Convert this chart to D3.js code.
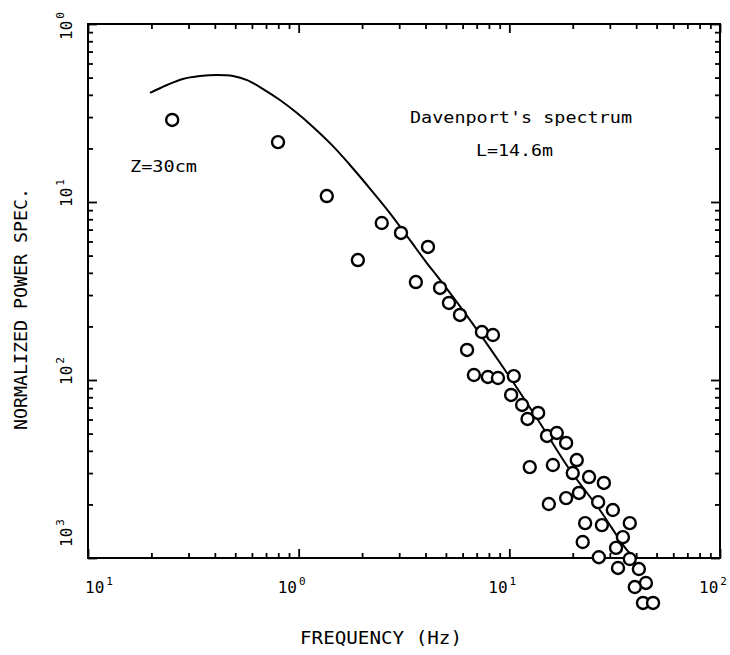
<!DOCTYPE html>
<html><head><meta charset="utf-8">
<script src="https://cdn.jsdelivr.net/npm/d3@7/dist/d3.min.js"></script>
<style>body{margin:0;background:#fff}</style>
</head><body>
<svg id="c" width="730" height="655"></svg>
<script>
// Observed normalized power spectrum (circles)
const obsFreq  = [0.251,0.798,1.36,1.91,2.48,3.06,3.60,4.11,4.69,5.17,5.83,6.30,7.41,8.36,6.79,7.91,8.83,10.5,10.2,11.5,13.7,12.2,15.1,16.8,18.6,12.5,16.1,20.9,20.0,23.9,28.1,15.4,18.6,21.4,26.4,31.0,22.9,27.5,37.3,34.6,22.3,32.1,26.6,37.3,32.8,41.2,44.5,39.4,43.1,48.1];
const obsPower = [0.289,0.217,0.108,0.0472,0.0762,0.0670,0.0355,0.0559,0.0329,0.0271,0.0232,0.01475,0.0186,0.0179,0.01067,0.0104,0.01026,0.01052,0.00824,0.00724,0.00653,0.00604,0.00485,0.00504,0.00443,0.00324,0.00333,0.00355,0.00300,0.00285,0.00264,0.00201,0.00217,0.00232,0.00206,0.00186,0.00157,0.00153,0.00157,0.00131,0.00123,0.00114,0.00101,0.000987,0.000879,0.000867,0.000724,0.000687,0.000559,0.000559];
// Davenport's spectrum (solid line)
const curveFreq  = [0.197,0.237,0.282,0.340,0.410,0.488,0.569,0.678,0.815,0.982,1.17,1.455,1.752,2.11,2.71,3.37,4.06,4.69,6.51,9.53,13.97,19.4,26.9,36.1,39.4];
const curvePower = [0.410,0.454,0.491,0.510,0.517,0.510,0.484,0.431,0.374,0.316,0.264,0.206,0.1614,0.1246,0.0867,0.0612,0.0454,0.0365,0.0217,0.01138,0.00573,0.00312,0.00186,0.00111,0.00100];
// Tick labels
const xTickValues = [0.1,1,10,100];
const xTickBase = ["10","10","10","10"];
const xTickExp  = ["1","0","1","2"];
const yTickValues = [1,0.1,0.01,0.001];
const yTickBase = ["10","10","10","10"];
const yTickExp  = ["0","1","2","3"];
const xTitle = "FREQUENCY (Hz)";
const yTitle = "NORMALIZED POWER SPEC.";
const noteSpectrum = "Davenport's spectrum";
const noteScale = "L=14.6m";
const noteHeight = "Z=30cm";

const svg = d3.select("#c");
const FONT = "'DejaVu Sans Mono', monospace";
const L = 88, R = 720, T = 24, B = 558;
const x = d3.scaleLog().domain([0.1,100]).range([L,R]);
const y = d3.scaleLog().domain([0.001,1]).range([B,T]);

const minorX = [], minorY = [];
[0.1,1,10].forEach(d => { for (let k=2;k<=9;k++) minorX.push(d*k); });
[0.001,0.01,0.1].forEach(d => { for (let k=2;k<=9;k++) minorY.push(d*k); });

function styleAxis(g){
  g.select(".domain").remove();
  g.selectAll("line").attr("stroke","#000").attr("stroke-width",1.8);
}
const major = 9, minor = 5;
svg.append("g").attr("transform",`translate(0,${B})`).call(d3.axisBottom(x).tickValues(xTickValues).tickSize(-major).tickFormat("")).call(styleAxis);
svg.append("g").attr("transform",`translate(0,${B})`).call(d3.axisBottom(x).tickValues(minorX).tickSize(-minor).tickFormat("")).call(styleAxis);
svg.append("g").attr("transform",`translate(0,${T})`).call(d3.axisTop(x).tickValues(xTickValues).tickSize(-major).tickFormat("")).call(styleAxis);
svg.append("g").attr("transform",`translate(0,${T})`).call(d3.axisTop(x).tickValues(minorX).tickSize(-minor).tickFormat("")).call(styleAxis);
svg.append("g").attr("transform",`translate(${L},0)`).call(d3.axisLeft(y).tickValues(yTickValues).tickSize(-major).tickFormat("")).call(styleAxis);
svg.append("g").attr("transform",`translate(${L},0)`).call(d3.axisLeft(y).tickValues(minorY).tickSize(-minor).tickFormat("")).call(styleAxis);
svg.append("g").attr("transform",`translate(${R},0)`).call(d3.axisRight(y).tickValues(yTickValues).tickSize(-major).tickFormat("")).call(styleAxis);
svg.append("g").attr("transform",`translate(${R},0)`).call(d3.axisRight(y).tickValues(minorY).tickSize(-minor).tickFormat("")).call(styleAxis);

svg.append("rect").attr("x",L).attr("y",T).attr("width",R-L).attr("height",B-T)
  .attr("fill","none").attr("stroke","#000").attr("stroke-width",2);

// X tick labels
xTickValues.forEach((v,i) => {
  const px = x(v) - (i===0 ? 3 : 21);
  const t = svg.append("text").attr("x",px).attr("y",593)
    .attr("font-family",FONT).attr("font-size",16).attr("fill","#000");
  t.append("tspan").text(xTickBase[i]);
  t.append("tspan").attr("dy",-8).attr("dx",2).attr("font-size",11).text(xTickExp[i]);
});
// Y tick labels (rotated)
yTickValues.forEach((v,i) => {
  const py = Math.max(40, Math.min(547, y(v) + 5));
  const t = svg.append("text").attr("transform",`translate(72,${py}) rotate(-90)`)
    .attr("font-family",FONT).attr("font-size",16).attr("fill","#000");
  t.append("tspan").text(yTickBase[i]);
  t.append("tspan").attr("dy",-8).attr("dx",2).attr("font-size",11).text(yTickExp[i]);
});

// Axis titles
svg.append("text").attr("x",300).attr("y",644).attr("font-family",FONT).attr("font-size",17)
  .attr("textLength",162).attr("lengthAdjust","spacingAndGlyphs").text(xTitle);
svg.append("text").attr("transform","translate(27,430) rotate(-90)").attr("font-family",FONT).attr("font-size",17)
  .attr("textLength",242).attr("lengthAdjust","spacingAndGlyphs").text(yTitle);

// Annotations
svg.append("text").attr("x",410).attr("y",123).attr("font-family",FONT).attr("font-size",16)
  .attr("textLength",222).attr("lengthAdjust","spacingAndGlyphs").text(noteSpectrum);
svg.append("text").attr("x",476).attr("y",156).attr("font-family",FONT).attr("font-size",16)
  .attr("textLength",77).attr("lengthAdjust","spacingAndGlyphs").text(noteScale);
svg.append("text").attr("x",130).attr("y",172).attr("font-family",FONT).attr("font-size",16)
  .attr("textLength",67).attr("lengthAdjust","spacingAndGlyphs").text(noteHeight);

// Curve
const line = d3.line().x((d,i)=>x(curveFreq[i])).y((d,i)=>y(curvePower[i])).curve(d3.curveCatmullRom.alpha(0.5));
svg.append("path").datum(curveFreq).attr("d",line).attr("fill","none").attr("stroke","#000").attr("stroke-width",2);

// Points
svg.append("g").selectAll("circle").data(obsFreq).join("circle")
  .attr("cx",(d,i)=>x(d)).attr("cy",(d,i)=>y(obsPower[i])).attr("r",6)
  .attr("fill","#fff").attr("stroke","#000").attr("stroke-width",2.4);
</script>
</body></html>
